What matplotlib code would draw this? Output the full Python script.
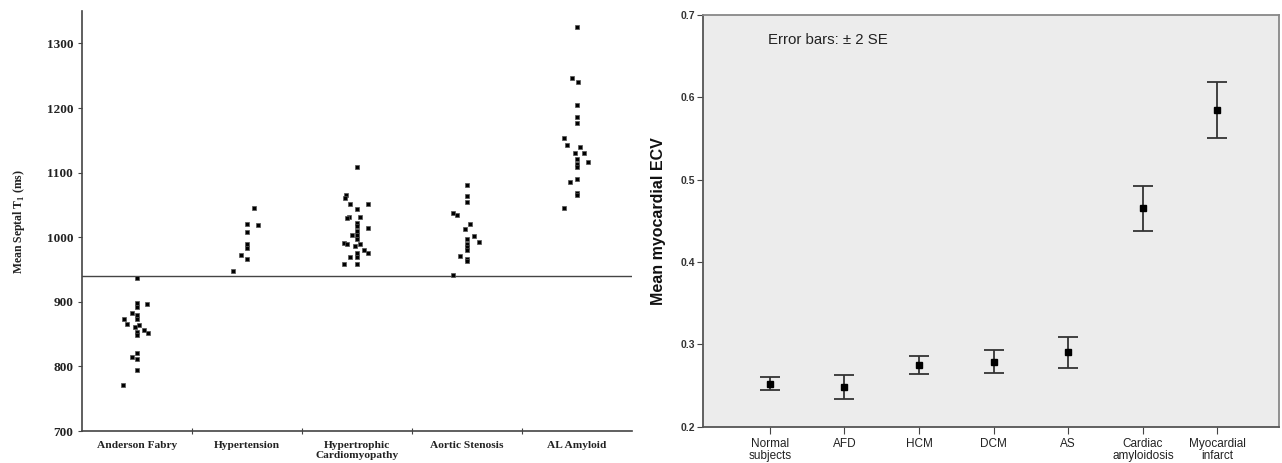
import numpy as np
import matplotlib
matplotlib.use("Agg")
from matplotlib import pyplot as plt

# ---------------- left panel: septal T1 per patient ----------------
t1_groups = ["Anderson Fabry", "Hypertension", "Hypertrophic\nCardiomyopathy",
             "Aortic Stenosis", "AL Amyloid"]

af_t1 = [937, 898, 897, 892, 883, 879, 874, 874, 865, 864, 861, 857, 852, 853,
         849, 821, 815, 811, 795, 772]
af_dx = [0, 0, 0.09, 0, -0.05, 0, 0, -0.12, -0.09, 0.02, -0.02, 0.06, 0.10, 0,
         0, 0, -0.05, 0, 0, -0.13]

htn_t1 = [1046, 1020, 1019, 1008, 989, 983, 972, 967, 947]
htn_dx = [0.06, 0, 0.10, 0, 0, 0, -0.055, 0, -0.125]

hcm_t1 = [1108, 1066, 1061, 1051, 1051, 1043, 1031, 1030, 1031, 1022, 1018, 1014,
          1009, 1004, 1003, 998, 991, 990, 990, 986, 981, 976, 976, 970, 970, 959, 959]
hcm_dx = [0, -0.10, -0.11, -0.06, 0.10, 0, -0.07, -0.09, 0.03, 0, 0, 0.10,
          0, -0.05, 0, 0, -0.12, -0.09, 0.03, -0.02, 0.06, 0.10, 0, 0, -0.06, -0.12, 0]

as_t1 = [1081, 1064, 1055, 1038, 1034, 1021, 1012, 1002, 998, 992, 989, 985, 981,
         971, 967, 963, 942]
as_dx = [0, 0, 0, -0.125, -0.095, 0.025, -0.02, 0.06, 0, 0.11, 0, 0, 0,
         -0.06, 0, 0, -0.13]

al_t1 = [1326, 1246, 1240, 1205, 1186, 1177, 1153, 1142, 1140, 1130, 1130, 1121,
         1116, 1114, 1109, 1090, 1085, 1068, 1065, 1046]
al_dx = [0, -0.05, 0.01, 0, 0, 0, -0.12, -0.09, 0.03, -0.02, 0.06, 0, 0.10,
         0, 0, 0, -0.06, 0, 0, -0.12]

t1_cutoff = 940

# ---------------- right panel: mean ECV +/- 2 SE ----------------
ecv_groups = ["Normal\nsubjects", "AFD", "HCM", "DCM", "AS", "Cardiac\namyloidosis",
              "Myocardial\ninfarct"]
ecv_mean = [0.252, 0.249, 0.275, 0.279, 0.291, 0.465, 0.584]
ecv_upper = [0.260, 0.2635, 0.286, 0.293, 0.309, 0.492, 0.618]
ecv_lower = [0.2445, 0.234, 0.264, 0.265, 0.272, 0.438, 0.551]

fig = plt.figure(figsize=(12.82, 4.63), dpi=100)

# left
ax1 = fig.add_axes([0.064, 0.069, 0.429, 0.907])
serif = "Liberation Serif"
all_t1 = [af_t1, htn_t1, hcm_t1, as_t1, al_t1]
all_dx = [af_dx, htn_dx, hcm_dx, as_dx, al_dx]
for i, (vals, dx) in enumerate(zip(all_t1, all_dx)):
    xs = np.array(dx) + i + 1
    ax1.scatter(xs, vals, marker="s", s=10, color="black", edgecolors="#555555",
                linewidths=0.5, zorder=3)
ax1.axhline(t1_cutoff, color="#444444", lw=1.0, zorder=2)
ax1.set_xlim(0.5, 5.5)
ax1.set_ylim(700, 1350)
ax1.set_yticks(range(700, 1301, 100))
ax1.set_xticks([1.5, 2.5, 3.5, 4.5])
ax1.set_xticklabels([])
ax1.set_xticks(range(1, 6), minor=True)
ax1.set_xticklabels(t1_groups, minor=True, fontfamily=serif, fontweight="bold",
                    fontsize=8.2, color="#222222")
ax1.tick_params(axis="x", which="minor", length=0, pad=7)
ax1.tick_params(axis="x", which="major", direction="inout", length=4, color="#444444")
ax1.tick_params(axis="y", direction="out", length=3, color="#444444", labelsize=9.5)
for lab in ax1.get_yticklabels():
    lab.set_fontfamily(serif)
    lab.set_fontweight("bold")
    lab.set_color("#222222")
for side in ["top", "right"]:
    ax1.spines[side].set_visible(False)
for side in ["left", "bottom"]:
    ax1.spines[side].set_color("#444444")
    ax1.spines[side].set_linewidth(1.2)
ax1.set_ylabel("Mean Septal T$_\\mathregular{1}$ (ms)", fontfamily=serif,
               fontweight="bold", fontsize=8.5, color="#222222", labelpad=14)

# right
ax2 = fig.add_axes([0.548, 0.078, 0.45, 0.89])
ax2.set_facecolor("#ececec")
x2 = np.arange(1, len(ecv_groups) + 1)
mean = np.array(ecv_mean)
yerr = [mean - np.array(ecv_lower), np.array(ecv_upper) - mean]
ax2.errorbar(x2, mean, yerr=yerr, fmt="s", color="black", markersize=5,
             ecolor="#333333", elinewidth=1.3, capsize=7, capthick=1.3, zorder=3)
ax2.set_xlim(0.1, 7.83)
ax2.set_ylim(0.2, 0.7)
ax2.set_yticks([0.2, 0.3, 0.4, 0.5, 0.6, 0.7])
ax2.set_yticklabels(["0.2", "0.3", "0.4", "0.5", "0.6", "0.7"])
ax2.set_xticks(x2)
ax2.set_xticklabels(ecv_groups, fontfamily="Liberation Sans", fontsize=8.5,
                    color="#222222", linespacing=0.95)
ax2.tick_params(axis="x", direction="out", length=5, color="#444444", pad=3)
ax2.tick_params(axis="y", direction="out", length=4, color="#444444", labelsize=7.5,
                pad=1)
for lab in ax2.get_yticklabels():
    lab.set_fontfamily("Liberation Sans")
    lab.set_fontweight("bold")
    lab.set_color("#333333")
for side in ["left", "bottom"]:
    ax2.spines[side].set_color("#555555")
    ax2.spines[side].set_linewidth(1.3)
for side in ["top", "right"]:
    ax2.spines[side].set_color("#888888")
    ax2.spines[side].set_linewidth(1.3)
ax2.set_ylabel("Mean myocardial ECV", fontfamily="Liberation Sans", fontweight="bold",
               fontsize=11.5, color="#111111", labelpad=11)
ax2.text(0.113, 0.94, "Error bars: \u00b1 2 SE", transform=ax2.transAxes,
         fontfamily="Liberation Sans", fontsize=10.8, color="#222222", va="center")

fig.savefig("out.png", dpi=100)
